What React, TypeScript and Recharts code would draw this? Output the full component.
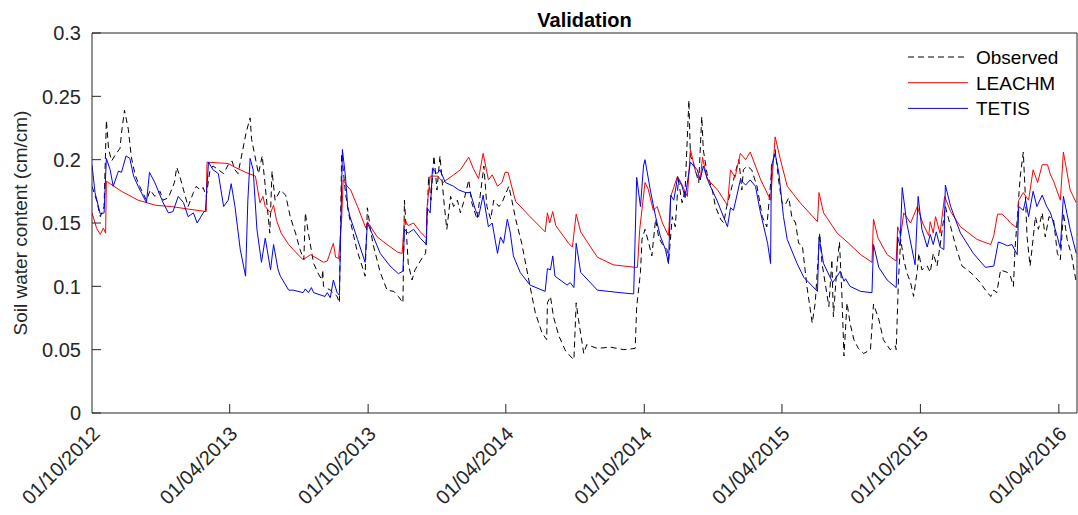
import React from "react"
import {
  LineChart,
  Line,
  XAxis,
  YAxis,
  ReferenceLine,
} from "recharts"

// x = days since 01/10/2012, y = soil water content (cm/cm)
const observed: [number, number][] = [
  [0, 0.179], [6, 0.168], [11, 0.155], [16, 0.163], [19, 0.231], [22, 0.208], [26, 0.199], [30, 0.203],
  [37, 0.209], [39, 0.221], [43, 0.239], [48, 0.224], [52, 0.202], [57, 0.188], [63, 0.179], [72, 0.168],
  [77, 0.176], [83, 0.171], [90, 0.175], [94, 0.168], [101, 0.17], [109, 0.182], [112, 0.194], [116, 0.187],
  [121, 0.176], [127, 0.163], [134, 0.174], [138, 0.179], [143, 0.176], [147, 0.178], [151, 0.171], [156, 0.192],
  [160, 0.195], [167, 0.192], [174, 0.189], [180, 0.196], [185, 0.199], [189, 0.192], [193, 0.189], [204, 0.222],
  [209, 0.233], [211, 0.216], [220, 0.189], [225, 0.203], [229, 0.179], [235, 0.142], [238, 0.191], [242, 0.168],
  [249, 0.176], [256, 0.172], [262, 0.155], [269, 0.142], [275, 0.129], [280, 0.121], [282, 0.158], [286, 0.142],
  [293, 0.118], [300, 0.109], [304, 0.105], [305, 0.113], [306, 0.1], [315, 0.097], [324, 0.092], [327, 0.087],
  [330, 0.205], [335, 0.174], [339, 0.158], [344, 0.145], [350, 0.129], [357, 0.116], [361, 0.108], [364, 0.162],
  [368, 0.145], [372, 0.132], [381, 0.111], [390, 0.097], [399, 0.096], [405, 0.092], [411, 0.087], [413, 0.168],
  [418, 0.118], [423, 0.105], [427, 0.113], [432, 0.118], [436, 0.122], [441, 0.126], [443, 0.155], [445, 0.187],
  [448, 0.168], [452, 0.203], [456, 0.176], [460, 0.203], [465, 0.168], [469, 0.145], [474, 0.171], [478, 0.163],
  [483, 0.168], [487, 0.158], [491, 0.166], [498, 0.184], [502, 0.166], [509, 0.153], [513, 0.171], [518, 0.195],
  [522, 0.163], [527, 0.153], [531, 0.168], [538, 0.163], [542, 0.166], [546, 0.172], [551, 0.179], [555, 0.168],
  [560, 0.153], [568, 0.134], [579, 0.1], [586, 0.079], [595, 0.063], [601, 0.058], [602, 0.087], [606, 0.092],
  [610, 0.076], [617, 0.061], [626, 0.049], [632, 0.045], [637, 0.042], [640, 0.087], [643, 0.074], [650, 0.047],
  [654, 0.054], [668, 0.051], [685, 0.052], [703, 0.05], [718, 0.051], [720, 0.084], [725, 0.111], [727, 0.137],
  [731, 0.145], [736, 0.134], [740, 0.124], [745, 0.153], [749, 0.139], [753, 0.134], [760, 0.129], [762, 0.118],
  [767, 0.155], [771, 0.147], [775, 0.184], [780, 0.166], [784, 0.176], [789, 0.247], [791, 0.203], [795, 0.197],
  [802, 0.182], [806, 0.234], [808, 0.208], [813, 0.189], [820, 0.176], [824, 0.163], [831, 0.153], [835, 0.15],
  [839, 0.163], [846, 0.179], [850, 0.189], [855, 0.2], [859, 0.176], [861, 0.192], [866, 0.195], [872, 0.192],
  [879, 0.179], [886, 0.155], [892, 0.147], [899, 0.195], [903, 0.208], [908, 0.182], [912, 0.166], [916, 0.164],
  [921, 0.17], [925, 0.155], [930, 0.15], [934, 0.134], [939, 0.132], [945, 0.1], [952, 0.071], [956, 0.087],
  [962, 0.142], [965, 0.118], [969, 0.103], [974, 0.084], [978, 0.121], [980, 0.076], [985, 0.118], [988, 0.135],
  [991, 0.097], [994, 0.045], [998, 0.087], [1002, 0.071], [1007, 0.058], [1013, 0.051], [1020, 0.047], [1029, 0.05],
  [1033, 0.086], [1040, 0.074], [1046, 0.058], [1055, 0.05], [1062, 0.053], [1063, 0.05], [1066, 0.105], [1069, 0.137],
  [1073, 0.121], [1077, 0.111], [1082, 0.103], [1086, 0.092], [1091, 0.113], [1093, 0.126], [1097, 0.113], [1104, 0.116],
  [1108, 0.111], [1112, 0.126], [1117, 0.116], [1121, 0.132], [1128, 0.163], [1135, 0.147], [1143, 0.129], [1150, 0.116],
  [1157, 0.113], [1165, 0.109], [1174, 0.103], [1181, 0.097], [1188, 0.092], [1192, 0.097], [1196, 0.095], [1201, 0.113],
  [1205, 0.112], [1210, 0.111], [1214, 0.108], [1218, 0.1], [1220, 0.129], [1223, 0.153], [1225, 0.171], [1227, 0.187],
  [1231, 0.206], [1234, 0.168], [1236, 0.139], [1240, 0.116], [1243, 0.132], [1247, 0.155], [1251, 0.145], [1256, 0.158],
  [1260, 0.139], [1265, 0.155], [1271, 0.153], [1276, 0.126], [1280, 0.121], [1284, 0.158], [1289, 0.137], [1295, 0.124],
  [1301, 0.103],
]

const leachm: [number, number][] = [
  [0, 0.158], [6, 0.146], [11, 0.141], [15, 0.146], [18, 0.142], [19, 0.183], [39, 0.175], [61, 0.168],
  [84, 0.164], [105, 0.163], [127, 0.161], [151, 0.159], [152, 0.198], [180, 0.197], [189, 0.194], [203, 0.19],
  [216, 0.187], [222, 0.166], [226, 0.171], [229, 0.163], [236, 0.158], [240, 0.164], [244, 0.152], [250, 0.142],
  [260, 0.133], [266, 0.129], [279, 0.121], [289, 0.125], [306, 0.119], [311, 0.12], [319, 0.134], [322, 0.123],
  [326, 0.122], [330, 0.153], [332, 0.184], [336, 0.18], [342, 0.176], [351, 0.163], [362, 0.146], [364, 0.151],
  [377, 0.139], [390, 0.133], [404, 0.127], [410, 0.126], [413, 0.153], [418, 0.148], [425, 0.15], [434, 0.143],
  [442, 0.138], [443, 0.163], [447, 0.187], [457, 0.187], [464, 0.182], [478, 0.188], [487, 0.192], [498, 0.202],
  [504, 0.193], [511, 0.185], [517, 0.205], [524, 0.184], [529, 0.188], [536, 0.179], [542, 0.182], [546, 0.19],
  [550, 0.19], [556, 0.176], [560, 0.167], [579, 0.155], [599, 0.143], [602, 0.158], [605, 0.15], [609, 0.159],
  [613, 0.148], [630, 0.134], [635, 0.131], [640, 0.157], [646, 0.143], [668, 0.123], [689, 0.117], [718, 0.115],
  [721, 0.115], [724, 0.145], [731, 0.182], [735, 0.177], [742, 0.16], [747, 0.163], [754, 0.15], [762, 0.14],
  [765, 0.171], [774, 0.187], [780, 0.18], [787, 0.171], [791, 0.208], [798, 0.19], [804, 0.184], [807, 0.202],
  [813, 0.185], [827, 0.176], [840, 0.164], [844, 0.192], [850, 0.186], [857, 0.205], [864, 0.2], [870, 0.206],
  [877, 0.195], [884, 0.184], [897, 0.168], [903, 0.218], [910, 0.2], [919, 0.179], [936, 0.166], [959, 0.151],
  [961, 0.174], [967, 0.158], [985, 0.142], [1002, 0.133], [1016, 0.125], [1031, 0.119], [1033, 0.153], [1039, 0.138],
  [1051, 0.125], [1063, 0.12], [1065, 0.147], [1069, 0.14], [1073, 0.158], [1082, 0.15], [1091, 0.163], [1098, 0.15],
  [1106, 0.14], [1108, 0.151], [1112, 0.142], [1115, 0.155], [1121, 0.142], [1127, 0.171], [1135, 0.159], [1148, 0.147],
  [1170, 0.137], [1188, 0.133], [1192, 0.14], [1197, 0.157], [1203, 0.157], [1210, 0.153], [1214, 0.15], [1223, 0.146],
  [1225, 0.168], [1231, 0.174], [1238, 0.168], [1244, 0.192], [1250, 0.182], [1256, 0.196], [1263, 0.196], [1267, 0.188],
  [1271, 0.183], [1280, 0.168], [1284, 0.206], [1293, 0.176], [1301, 0.166],
]

const tetis: [number, number][] = [
  [0, 0.196], [4, 0.174], [11, 0.157], [16, 0.158], [19, 0.201], [24, 0.192], [28, 0.179], [35, 0.191],
  [39, 0.19], [45, 0.203], [50, 0.201], [55, 0.187], [61, 0.179], [72, 0.166], [76, 0.19], [83, 0.182],
  [94, 0.166], [101, 0.158], [107, 0.159], [114, 0.171], [121, 0.166], [127, 0.155], [134, 0.158], [139, 0.15],
  [147, 0.158], [150, 0.16], [154, 0.198], [160, 0.192], [167, 0.189], [174, 0.163], [180, 0.168], [184, 0.181],
  [189, 0.163], [196, 0.129], [203, 0.108], [206, 0.168], [209, 0.201], [213, 0.192], [218, 0.145], [224, 0.119],
  [229, 0.138], [236, 0.113], [240, 0.133], [246, 0.113], [249, 0.108], [260, 0.097], [266, 0.097], [279, 0.095],
  [282, 0.098], [286, 0.095], [290, 0.099], [293, 0.095], [308, 0.092], [311, 0.095], [315, 0.091], [319, 0.105],
  [324, 0.095], [327, 0.093], [331, 0.208], [335, 0.187], [338, 0.163], [341, 0.155], [351, 0.137], [361, 0.119],
  [364, 0.15], [370, 0.142], [381, 0.126], [394, 0.116], [405, 0.11], [411, 0.112], [413, 0.145], [418, 0.142],
  [425, 0.145], [434, 0.138], [442, 0.133], [443, 0.162], [447, 0.158], [450, 0.193], [456, 0.189], [460, 0.192],
  [467, 0.182], [478, 0.179], [485, 0.176], [494, 0.174], [500, 0.174], [507, 0.16], [511, 0.155], [517, 0.172],
  [524, 0.147], [529, 0.15], [536, 0.126], [540, 0.139], [544, 0.134], [549, 0.153], [553, 0.142], [557, 0.124],
  [566, 0.111], [579, 0.101], [599, 0.096], [602, 0.114], [606, 0.113], [609, 0.124], [612, 0.108], [628, 0.101],
  [632, 0.103], [637, 0.099], [640, 0.134], [646, 0.111], [668, 0.097], [698, 0.095], [716, 0.094], [720, 0.186],
  [725, 0.163], [729, 0.195], [731, 0.2], [738, 0.176], [745, 0.155], [751, 0.14], [758, 0.129], [762, 0.118],
  [765, 0.172], [769, 0.168], [774, 0.186], [780, 0.179], [784, 0.17], [791, 0.198], [800, 0.192], [804, 0.184],
  [808, 0.195], [815, 0.182], [826, 0.168], [840, 0.147], [844, 0.162], [848, 0.16], [857, 0.184], [864, 0.18],
  [870, 0.184], [877, 0.179], [883, 0.16], [893, 0.134], [897, 0.118], [898, 0.195], [903, 0.205], [908, 0.189],
  [914, 0.155], [919, 0.137], [932, 0.118], [941, 0.107], [959, 0.096], [961, 0.139], [967, 0.118], [979, 0.103],
  [985, 0.108], [989, 0.112], [994, 0.104], [996, 0.106], [1002, 0.1], [1016, 0.096], [1031, 0.095], [1033, 0.133],
  [1040, 0.115], [1051, 0.105], [1063, 0.099], [1065, 0.139], [1068, 0.132], [1071, 0.178], [1077, 0.15], [1088, 0.117],
  [1092, 0.171], [1097, 0.145], [1104, 0.131], [1108, 0.141], [1112, 0.133], [1116, 0.143], [1121, 0.131], [1126, 0.129],
  [1128, 0.18], [1135, 0.163], [1148, 0.142], [1165, 0.126], [1181, 0.115], [1192, 0.116], [1198, 0.135], [1203, 0.134],
  [1210, 0.132], [1216, 0.133], [1223, 0.125], [1225, 0.163], [1231, 0.16], [1234, 0.168], [1238, 0.155], [1244, 0.175],
  [1249, 0.163], [1256, 0.172], [1262, 0.163], [1267, 0.158], [1276, 0.139], [1280, 0.13], [1284, 0.171], [1293, 0.145],
  [1301, 0.126],
]

const xTicks = [0, 182, 365, 547, 730, 912, 1095, 1278]
const xTickLabels = [
  "01/10/2012", "01/04/2013", "01/10/2013", "01/04/2014",
  "01/10/2014", "01/04/2015", "01/10/2015", "01/04/2016",
]
const yTicks = [0, 0.05, 0.1, 0.15, 0.2, 0.25, 0.3]

const seriesNames = ["Observed", "LEACHM", "TETIS"]
const seriesColors = ["#000000", "#ff0000", "#0000ff"]
const seriesDash = ["6 4", undefined, undefined]

const toRows = (pts: [number, number][]) => pts.map(([d, v]) => ({ d, v }))

const FONT = '"Liberation Sans", Arial, Helvetica, sans-serif'
const AXIS = "#262626"
const X_MAX = 1302

const YTick = (props: any) => {
  const { x, y, payload } = props
  const label = String(Number(payload.value.toFixed(2)))
  return (
    <g>
      <line x1={x} x2={x + 9} y1={y} y2={y} stroke={AXIS} strokeWidth={1} />
      <text x={x - 11} y={y} dy="0.36em" textAnchor="end" fontSize={20} fill={AXIS} fontFamily={FONT}>
        {label}
      </text>
    </g>
  )
}

const XTick = (props: any) => {
  const { x, y, payload, index } = props
  const label = xTickLabels[xTicks.indexOf(payload.value)] ?? ""
  return (
    <g>
      {index > 0 && <line x1={x} x2={x} y1={y} y2={y - 9} stroke={AXIS} strokeWidth={1} />}
      <text
        x={x + 9}
        y={y + 22}
        textAnchor="end"
        fontSize={20}
        fill={AXIS}
        fontFamily={FONT}
        transform={`rotate(-45, ${x + 9}, ${y + 22})`}
      >
        {label}
      </text>
    </g>
  )
}

// legend drawn inside the plot box, top right, no frame
const PlotLegend = () => (
  <g fontFamily={FONT} fontSize={19} fill="#000">
    {seriesNames.map((name, i) => {
      const cy = 57 + i * 25.7
      return (
        <g key={name}>
          <line
            x1={908}
            x2={968}
            y1={cy}
            y2={cy}
            stroke={seriesColors[i]}
            strokeDasharray={seriesDash[i]}
            strokeWidth={1}
          />
          <text x={976} y={cy} dy="0.36em">
            {name}
          </text>
        </g>
      )
    })}
  </g>
)

export default function App() {
  return (
    <div style={{ position: "absolute", left: 0, top: 0, background: "#fff" }}>
      <LineChart width={1078} height={515} margin={{ top: 33, right: 1, bottom: 0, left: 0 }}>
        <XAxis
          dataKey="d"
          type="number"
          domain={[0, X_MAX]}
          ticks={xTicks}
          allowDataOverflow
          height={102}
          tickLine={false}
          tickSize={0}
          tickMargin={0}
          axisLine={{ stroke: AXIS, strokeWidth: 1 }}
          tick={<XTick />}
          interval={0}
        />
        <YAxis
          dataKey="v"
          type="number"
          domain={[0, 0.3]}
          ticks={yTicks}
          width={92}
          tickLine={false}
          tickSize={0}
          tickMargin={0}
          axisLine={{ stroke: AXIS, strokeWidth: 1 }}
          tick={<YTick />}
          interval={0}
        />
        <ReferenceLine y={0.3} stroke={AXIS} strokeWidth={1} />
        <ReferenceLine x={X_MAX} stroke={AXIS} strokeWidth={1} />

        {[observed, leachm, tetis].map((pts, i) => (
          <Line
            key={seriesNames[i]}
            data={toRows(pts)}
            dataKey="v"
            name={seriesNames[i]}
            type="linear"
            stroke={seriesColors[i]}
            strokeWidth={1}
            strokeDasharray={seriesDash[i]}
            dot={false}
            isAnimationActive={false}
          />
        ))}

        <PlotLegend />

        <text x={584.5} y={27} textAnchor="middle" fontSize={20} fontWeight="bold" fill="#000" fontFamily={FONT}>
          Validation
        </text>
        <text
          x={27}
          y={223}
          textAnchor="middle"
          fontSize={19}
          fill={AXIS}
          fontFamily={FONT}
          transform="rotate(-90, 27, 223)"
        >
          Soil water content (cm/cm)
        </text>
      </LineChart>
    </div>
  )
}
